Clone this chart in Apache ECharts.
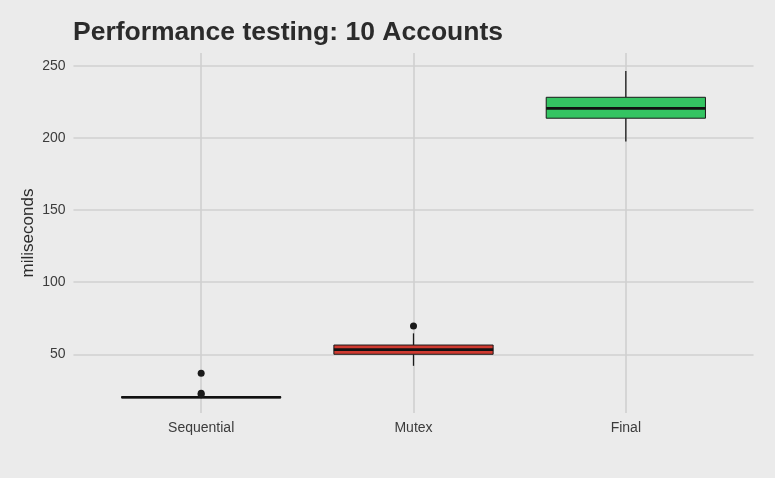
<!DOCTYPE html>
<html>
<head>
<meta charset="utf-8">
<script src="https://cdn.jsdelivr.net/npm/echarts@6/dist/echarts.min.js"></script>
<style>
html,body{margin:0;padding:0;background:#ebebeb;}
#chart{width:775px;height:478px;}
</style>
</head>
<body>
<div id="chart"></div>
<script>
// ---- data ----
const categories = ['Sequential', 'Mutex', 'Final'];
const whiskerLow = [19.5, 42.0, 197.4];
const q1Values = [19.8, 50.0, 213.6];
const medianValues = [20.2, 53.2, 220.4];
const q3Values = [20.6, 56.4, 228.1];
const whiskerHigh = [21.0, 64.5, 246.3];
const outlierCategories = ['Sequential', 'Sequential', 'Sequential', 'Mutex'];
const outlierValues = [36.8, 23.0, 22.2, 69.6];
const yTicks = [50, 100, 150, 200, 250];
const yMin = 9.3, yMax = 258.8;

// ---- styles ----
const FONT = '"Liberation Sans", Arial, Helvetica, sans-serif';
const boxColors = ['#2b2b2b', '#cf3a30', '#34c462'];
const ink = '#1a1a1a';
const gridColor = '#d0d0d0';
const textColor = '#3c3c3c';

const boxData = categories.map((c, i) => [i, whiskerLow[i], q1Values[i], medianValues[i], q3Values[i], whiskerHigh[i]]);
const outlierData = outlierCategories.map((c, k) => [categories.indexOf(c), outlierValues[k]]);

function renderBox(params, api) {
  const i = api.value(0);
  const pLo = api.coord([i, api.value(1)]);
  const pQ1 = api.coord([i, api.value(2)]);
  const pMed = api.coord([i, api.value(3)]);
  const pQ3 = api.coord([i, api.value(4)]);
  const pHi = api.coord([i, api.value(5)]);
  const band = api.size([1, 0])[0];
  const hw = band * 0.75 / 2;
  const cx = pMed[0];
  return {
    type: 'group',
    children: [
      {type: 'line', shape: {x1: cx, y1: pLo[1], x2: cx, y2: pQ1[1]}, style: {stroke: ink, lineWidth: 1.3}},
      {type: 'line', shape: {x1: cx, y1: pQ3[1], x2: cx, y2: pHi[1]}, style: {stroke: ink, lineWidth: 1.3}},
      {type: 'rect', shape: {x: cx - hw, y: pQ3[1], width: hw * 2, height: pQ1[1] - pQ3[1]},
        style: {fill: boxColors[i], stroke: ink, lineWidth: 1}},
      {type: 'line', shape: {x1: cx - hw, y1: pMed[1], x2: cx + hw, y2: pMed[1]}, style: {stroke: '#111', lineWidth: 2.6}}
    ]
  };
}

const chart = echarts.init(document.getElementById('chart'), null, {renderer: 'canvas'});
chart.setOption({
  backgroundColor: '#ebebeb',
  animation: false,
  title: {
    text: 'Performance testing: 10 Accounts',
    left: 73, top: 19, padding: 0,
    textStyle: {fontFamily: FONT, fontWeight: 'bold', fontSize: 26.5, color: '#2b2b2b'}
  },
  grid: [
    {left: 73.5, right: 21.5, top: 53, bottom: 65},
    {left: 95, right: 43, top: 53, bottom: 65}
  ],
  xAxis: [
    {
      gridIndex: 0, type: 'value', min: 0.4, max: 3.6,
      axisLine: {show: false}, axisLabel: {show: false},
      axisTick: {show: false, customValues: categories.map((c, i) => i + 1)},
      splitLine: {show: true, lineStyle: {color: gridColor, width: 1.6}}
    },
    {
      gridIndex: 1, type: 'category', data: categories,
      axisLine: {show: false}, axisTick: {show: false}, splitLine: {show: false},
      axisLabel: {margin: 8, fontFamily: FONT, fontSize: 14, color: textColor}
    }
  ],
  yAxis: [
    {
      gridIndex: 0, type: 'value', min: yMin, max: yMax,
      name: 'miliseconds', nameLocation: 'middle', nameGap: 37, nameRotate: 90,
      nameMoveOverlap: false,
      nameTextStyle: {fontFamily: FONT, fontSize: 17, color: '#2b2b2b'},
      axisLine: {show: false},
      axisTick: {show: false, customValues: yTicks},
      axisLabel: {customValues: yTicks, margin: 8, fontFamily: FONT, fontSize: 14, color: textColor},
      splitLine: {show: true, lineStyle: {color: gridColor, width: 1.6}}
    },
    {
      gridIndex: 1, type: 'value', min: yMin, max: yMax,
      axisLine: {show: false}, axisTick: {show: false}, axisLabel: {show: false}, splitLine: {show: false}
    }
  ],
  series: [
    {
      type: 'custom', xAxisIndex: 1, yAxisIndex: 1,
      renderItem: renderBox,
      encode: {x: 0, y: [1, 2, 3, 4, 5]},
      data: boxData, z: 3
    },
    {
      type: 'scatter', xAxisIndex: 1, yAxisIndex: 1,
      symbolSize: 7, itemStyle: {color: ink, opacity: 1},
      data: outlierData, z: 4
    }
  ]
});
</script>
</body>
</html>
